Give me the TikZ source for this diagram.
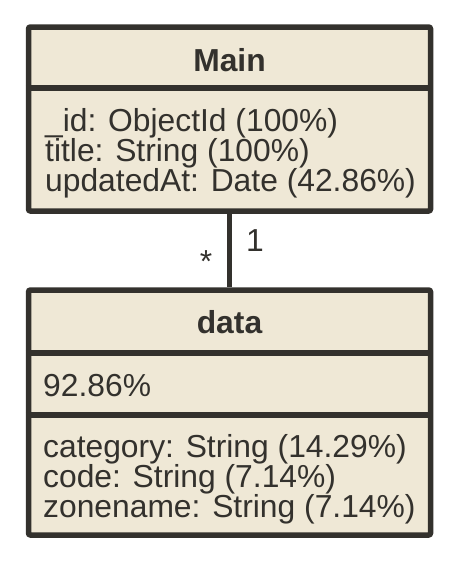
\documentclass[tikz,border=0pt]{standalone}
\usepackage{fontspec}
\setmainfont{Liberation Sans}
\definecolor{boxfill}{RGB}{239,232,214}
\definecolor{ink}{RGB}{51,49,45}
\begin{document}
\begin{tikzpicture}[x=1pt,y=-1pt,
  umlbox/.style={draw=ink,fill=boxfill,line width=5.5pt,rounded corners=2pt,minimum width=402pt,inner sep=0pt},
  divider/.style={draw=ink,line width=5.5pt},
  txt/.style={inner sep=0pt,anchor=base west,text=ink,font=\fontsize{31.8}{30}\selectfont},
  ttl/.style={inner sep=0pt,anchor=base,text=ink,font=\fontsize{31.8}{30}\selectfont\bfseries},
  conn/.style={draw=ink,line width=5.5pt}]
\useasboundingbox (0,0) rectangle (456,562);
% boxes
\node[umlbox,minimum height=184pt] (main) at (229.5,119) {};
\node[umlbox,minimum height=245pt] (data) at (229.5,412.5) {};
% dividers
\coordinate (m1l) at (main.west |- 0,88);
\coordinate (m1r) at (main.east |- 0,88);
\draw[divider] (m1l) -- (m1r);
\coordinate (d1l) at (data.west |- 0,353);
\coordinate (d1r) at (data.east |- 0,353);
\draw[divider] (d1l) -- (d1r);
\coordinate (d2l) at (data.west |- 0,415);
\coordinate (d2r) at (data.east |- 0,415);
\draw[divider] (d2l) -- (d2r);
% connector
\draw[conn] (main.south) -- (data.north);
\node[txt] (one) at (246,251) {1};
\node[txt,anchor=base] (star) at (206,272) {*};
% texts
\node[ttl] (mainT) at (229.5,71) {Main};
\node[txt] (a1) at (45,131) {\_id: ObjectId (100\%)};
\node[txt] (a2) at (45,161) {title: String (100\%)};
\node[txt] (a3) at (45,191) {updatedAt: Date (42.86\%)};
\node[ttl] (dataT) at (229.5,333) {data};
\node[txt] (pct) at (43,396) {92.86\%};
\node[txt] (b1) at (43,457) {category: String (14.29\%)};
\node[txt] (b2) at (43,487) {code: String (7.14\%)};
\node[txt] (b3) at (43,517) {zonename: String (7.14\%)};
\end{tikzpicture}
\end{document}
